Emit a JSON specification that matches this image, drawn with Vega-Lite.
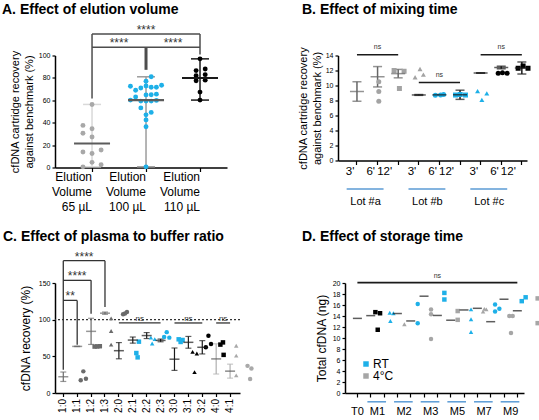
{
  "$schema": "https://vega.github.io/schema/vega-lite/v6.json",
  "autosize": {"type": "none"},
  "padding": {"left": 55, "top": 55.5, "right": 484, "bottom": 364.5},
  "background": "white",
  "config": {
    "font": "Liberation Sans",
    "view": {"stroke": null},
    "title": {"fontSize": 14, "fontWeight": "bold", "anchor": "start", "frame": "group", "color": "#000", "offset": 4},
    "axis": {"domainColor": "#000", "domainWidth": 1.5, "tickColor": "#000", "tickWidth": 1.2, "tickSize": 3, "labelFontSize": 7, "labelColor": "#000", "titleColor": "#000", "titleFontWeight": "normal", "grid": false, "labelPadding": 2}
  },
  "spacing": 227.5,
  "bounds": "flush",
  "vconcat": [
    {
      "spacing": 111,
      "bounds": "flush",
      "hconcat": [
        {
          "title": {"text": "A. Effect of elution volume", "dx": -53, "dy": -3},
          "width": 172,
          "height": 112,
          "data": {"values": [
            {"vol": "65 µL", "rec": 56.3, "j": 0}, {"vol": "65 µL", "rec": 37.6, "j": -7}, {"vol": "65 µL", "rec": 34.6, "j": 0},
            {"vol": "65 µL", "rec": 30.6, "j": -7}, {"vol": "65 µL", "rec": 27.2, "j": 0}, {"vol": "65 µL", "rec": 13.8, "j": -7},
            {"vol": "65 µL", "rec": 12.5, "j": 0}, {"vol": "65 µL", "rec": 15.6, "j": 7}, {"vol": "65 µL", "rec": 4.6, "j": 0},
            {"vol": "65 µL", "rec": 2.4, "j": 7}, {"vol": "65 µL", "rec": 0.6, "j": -7},
            {"vol": "100 µL", "rec": 81, "j": 4}, {"vol": "100 µL", "rec": 77, "j": 0}, {"vol": "100 µL", "rec": 72.5, "j": -12},
            {"vol": "100 µL", "rec": 69, "j": -8}, {"vol": "100 µL", "rec": 71, "j": -4}, {"vol": "100 µL", "rec": 72.8, "j": 0},
            {"vol": "100 µL", "rec": 71.6, "j": 4}, {"vol": "100 µL", "rec": 71.6, "j": 8}, {"vol": "100 µL", "rec": 73.4, "j": 12},
            {"vol": "100 µL", "rec": 63, "j": -8}, {"vol": "100 µL", "rec": 64.8, "j": 0}, {"vol": "100 µL", "rec": 65, "j": 4},
            {"vol": "100 µL", "rec": 65.5, "j": 8}, {"vol": "100 µL", "rec": 60.2, "j": -12}, {"vol": "100 µL", "rec": 59.3, "j": -4},
            {"vol": "100 µL", "rec": 59.3, "j": 0}, {"vol": "100 µL", "rec": 59.3, "j": 4}, {"vol": "100 µL", "rec": 59.9, "j": 8},
            {"vol": "100 µL", "rec": 53.2, "j": -4}, {"vol": "100 µL", "rec": 49.2, "j": 4}, {"vol": "100 µL", "rec": 47, "j": 0},
            {"vol": "100 µL", "rec": 42.5, "j": 0}, {"vol": "100 µL", "rec": 36.4, "j": 0}, {"vol": "100 µL", "rec": 0.6, "j": 0},
            {"vol": "110 µL", "rec": 97, "j": 0}, {"vol": "110 µL", "rec": 86.5, "j": -3}, {"vol": "110 µL", "rec": 88, "j": 4},
            {"vol": "110 µL", "rec": 82, "j": -3}, {"vol": "110 µL", "rec": 82.9, "j": 4}, {"vol": "110 µL", "rec": 77.4, "j": -3},
            {"vol": "110 µL", "rec": 78, "j": 4}, {"vol": "110 µL", "rec": 67.3, "j": 0}, {"vol": "110 µL", "rec": 60.2, "j": 0}
          ]},
          "encoding": {
            "y": {"field": "rec", "type": "quantitative", "title": ["cfDNA cartridge recovery", "against benchmark (%)"], "scale": {"domain": [0, 100]},
              "axis": {"values": [0, 20, 40, 60, 80, 100], "titleFontSize": 11, "titleLineHeight": 14, "titlePadding": 4}}
          },
          "layer": [
            {
              "mark": {"type": "rule", "strokeWidth": 1.5},
              "encoding": {
                "x": {"field": "vol", "type": "nominal", "scale": {"domain": ["65 µL", "100 µL", "110 µL"], "paddingInner": 0, "paddingOuter": 0.093, "align": 1}},
                "y": {"aggregate": "min", "field": "rec", "type": "quantitative", "title": ["cfDNA cartridge recovery", "against benchmark (%)"], "scale": {"domain": [0, 100]},
                  "axis": {"values": [0, 20, 40, 60, 80, 100], "titleFontSize": 11, "titleLineHeight": 14, "titlePadding": 4}},
                "y2": {"aggregate": "max", "field": "rec"},
                "color": {"field": "vol", "type": "nominal", "scale": {"domain": ["65 µL", "100 µL", "110 µL"], "range": ["#d9d9d9", "#9c9c9c", "#1a1a1a"]}, "legend": null}
              }
            },
            {
              "mark": {"type": "tick", "size": 18, "thickness": 1.5},
              "encoding": {
                "x": {"field": "vol", "type": "nominal", "scale": {"domain": ["65 µL", "100 µL", "110 µL"]}},
                "y": {"aggregate": "max", "field": "rec", "type": "quantitative", "title": ["cfDNA cartridge recovery", "against benchmark (%)"], "scale": {"domain": [0, 100]},
                  "axis": {"values": [0, 20, 40, 60, 80, 100], "titleFontSize": 11, "titleLineHeight": 14, "titlePadding": 4}},
                "color": {"field": "vol", "type": "nominal", "scale": {"domain": ["65 µL", "100 µL", "110 µL"], "range": ["#d9d9d9", "#9c9c9c", "#1a1a1a"]}, "legend": null}
              }
            },
            {
              "mark": {"type": "tick", "size": 18, "thickness": 1.5},
              "encoding": {
                "x": {"field": "vol", "type": "nominal", "scale": {"domain": ["65 µL", "100 µL", "110 µL"]}},
                "y": {"aggregate": "min", "field": "rec", "type": "quantitative", "title": ["cfDNA cartridge recovery", "against benchmark (%)"], "scale": {"domain": [0, 100]},
                  "axis": {"values": [0, 20, 40, 60, 80, 100], "titleFontSize": 11, "titleLineHeight": 14, "titlePadding": 4}},
                "color": {"field": "vol", "type": "nominal", "scale": {"domain": ["65 µL", "100 µL", "110 µL"], "range": ["#d9d9d9", "#9c9c9c", "#1a1a1a"]}, "legend": null}
              }
            },
            {
              "mark": {"type": "circle", "size": 24, "opacity": 1},
              "encoding": {
                "x": {"field": "vol", "type": "nominal", "scale": {"domain": ["65 µL", "100 µL", "110 µL"]},
                  "axis": {"title": null, "labelAngle": 0, "labelExpr": "['Elution', 'Volume', datum.label]", "labelFontSize": 12, "labelLineHeight": 15, "labelPadding": 5, "tickSize": 4, "bandPosition": 0.5}},
                "xOffset": {"field": "j", "type": "quantitative", "scale": {"domain": [-20.8, 20.8]}},
                "color": {"field": "vol", "type": "nominal", "scale": {"domain": ["65 µL", "100 µL", "110 µL"], "range": ["#a8a8a8", "#1eb0e8", "#000000"]}, "legend": null}
              }
            },
            {
              "mark": {"type": "tick", "size": 36, "thickness": 2.2},
              "encoding": {
                "x": {"field": "vol", "type": "nominal", "scale": {"domain": ["65 µL", "100 µL", "110 µL"]}},
                "y": {"aggregate": "mean", "field": "rec", "type": "quantitative", "title": ["cfDNA cartridge recovery", "against benchmark (%)"], "scale": {"domain": [0, 100]},
                  "axis": {"values": [0, 20, 40, 60, 80, 100], "titleFontSize": 11, "titleLineHeight": 14, "titlePadding": 4}},
                "color": {"field": "vol", "type": "nominal", "scale": {"domain": ["65 µL", "100 µL", "110 µL"], "range": ["#5c5c5c", "#5c5c5c", "#1a1a1a"]}, "legend": null}
              }
            },
            {
              "data": {"values": [
                {"vol": "65 µL", "vol2": "110 µL", "rec": 107.3},
                {"vol": "65 µL", "vol2": "110 µL", "rec": 119.3}
              ]},
              "mark": {"type": "rule", "color": "#4d4d4d", "strokeWidth": 1.5},
              "encoding": {
                "x": {"field": "vol", "type": "nominal", "bandPosition": 0.5, "scale": {"domain": ["65 µL", "100 µL", "110 µL"]}},
                "x2": {"field": "vol2", "bandPosition": 0.5}
              }
            },
            {
              "data": {"values": [
                {"vol": "65 µL", "rec": 61.5, "rec2": 119.3},
                {"vol": "110 µL", "rec": 101, "rec2": 119.3}
              ]},
              "mark": {"type": "rule", "color": "#4d4d4d", "strokeWidth": 1.5},
              "encoding": {
                "x": {"field": "vol", "type": "nominal", "scale": {"domain": ["65 µL", "100 µL", "110 µL"]}},
                "y2": {"field": "rec2"}
              }
            },
            {
              "data": {"values": [{"vol": "100 µL", "rec": 87.2, "rec2": 107.3}]},
              "mark": {"type": "rule", "color": "#4d4d4d", "strokeWidth": 3},
              "encoding": {
                "x": {"field": "vol", "type": "nominal", "scale": {"domain": ["65 µL", "100 µL", "110 µL"]}},
                "y2": {"field": "rec2"}
              }
            },
            {
              "data": {"values": [{"vol": "100 µL", "rec": 119.3, "s": "****"}]},
              "mark": {"type": "text", "fontSize": 12, "baseline": "alphabetic", "color": "#333"},
              "encoding": {
                "x": {"field": "vol", "type": "nominal", "scale": {"domain": ["65 µL", "100 µL", "110 µL"]}},
                "text": {"field": "s"}
              }
            },
            {
              "data": {"values": [{"vol": "100 µL", "rec": 107.3, "s": "****"}, {"vol": "110 µL", "rec": 107.3, "s": "****"}]},
              "mark": {"type": "text", "fontSize": 12, "baseline": "alphabetic", "color": "#333"},
              "encoding": {
                "x": {"field": "vol", "type": "nominal", "bandPosition": 0, "scale": {"domain": ["65 µL", "100 µL", "110 µL"]}},
                "text": {"field": "s"}
              }
            }
          ],
          "resolve": {"scale": {"color": "independent"}}
        },
        {
          "title": {"text": "B. Effect of mixing time", "dx": -36, "dy": -22},
          "width": 189,
          "height": 105,
          "data": {"values": [
            {"g": "3' a", "lot": "a", "t": "3'", "v": 10.5, "j": 0}, {"g": "3' a", "lot": "a", "t": "3'", "v": 9.2, "j": 0}, {"g": "3' a", "lot": "a", "t": "3'", "v": 7.9, "j": 0},
            {"g": "6' a", "lot": "a", "t": "6'", "v": 12.0, "j": -4.1}, {"g": "6' a", "lot": "a", "t": "6'", "v": 11.9, "j": 3.6}, {"g": "6' a", "lot": "a", "t": "6'", "v": 9.6, "j": 0},
            {"g": "12' a", "lot": "a", "t": "12'", "v": 11.1, "j": -3.8}, {"g": "12' a", "lot": "a", "t": "12'", "v": 11.45, "j": 2.6}, {"g": "12' a", "lot": "a", "t": "12'", "v": 12.2, "j": 0},
            {"g": "3' b", "lot": "b", "t": "3'", "v": 8.7, "j": -4.1}, {"g": "3' b", "lot": "b", "t": "3'", "v": 8.8, "j": 2.3}, {"g": "3' b", "lot": "b", "t": "3'", "v": 8.72, "j": 0},
            {"g": "6' b", "lot": "b", "t": "6'", "v": 8.73, "j": -4.4}, {"g": "6' b", "lot": "b", "t": "6'", "v": 8.8, "j": -0.8}, {"g": "6' b", "lot": "b", "t": "6'", "v": 8.73, "j": 3.3},
            {"g": "12' b", "lot": "b", "t": "12'", "v": 9.26, "j": -3.3}, {"g": "12' b", "lot": "b", "t": "12'", "v": 8.95, "j": 3.8}, {"g": "12' b", "lot": "b", "t": "12'", "v": 8.08, "j": 0},
            {"g": "3' c", "lot": "c", "t": "3'", "v": 11.65, "j": -3.3}, {"g": "3' c", "lot": "c", "t": "3'", "v": 11.7, "j": 0}, {"g": "3' c", "lot": "c", "t": "3'", "v": 11.65, "j": 3.6},
            {"g": "6' c", "lot": "c", "t": "6'", "v": 12.3, "j": -3.8}, {"g": "6' c", "lot": "c", "t": "6'", "v": 12.6, "j": 0}, {"g": "6' c", "lot": "c", "t": "6'", "v": 12.3, "j": 3.8},
            {"g": "12' c", "lot": "c", "t": "12'", "v": 13.1, "j": 1}, {"g": "12' c", "lot": "c", "t": "12'", "v": 12.4, "j": 1}, {"g": "12' c", "lot": "c", "t": "12'", "v": 11.5, "j": 1}
          ]},
          "encoding": {
            "y": {"field": "v", "type": "quantitative", "title": ["cfDNA cartridge recovery", "against benchmark (%)"], "scale": {"domain": [0, 14]},
              "axis": {"values": [0, 2, 4, 6, 8, 10, 12, 14], "titleFontSize": 11, "titleLineHeight": 14, "titlePadding": 3}}
          },
          "layer": [
            {
              "mark": {"type": "errorbar", "extent": "stdev", "ticks": {"size": 9}, "thickness": 1.5},
              "encoding": {
                "x": {"field": "g", "type": "nominal", "scale": {"domain": ["3' a", "6' a", "12' a", "3' b", "6' b", "12' b", "3' c", "6' c", "12' c"], "paddingInner": 0.5, "paddingOuter": 0.335, "align": 1}},
                "color": {"field": "lot", "type": "nominal", "scale": {"domain": ["a", "b", "c"], "range": ["#666666", "#1a1a1a", "#1a1a1a"]}, "legend": null}
              }
            },
            {
              "mark": {"type": "point", "filled": true, "size": 25, "opacity": 1},
              "encoding": {
                "x": {"field": "g", "type": "nominal", "scale": {"domain": ["3' a", "6' a", "12' a", "3' b", "6' b", "12' b", "3' c", "6' c", "12' c"]},
                  "axis": {"title": null, "labelAngle": 0, "labelExpr": "split(datum.label, ' ')[0]", "labelFontSize": 11.5, "labelPadding": 7, "labelOffset": {"condition": {"test": "indexof(datum.label, '12') == 0", "value": -6}, "value": -2.5}, "tickSize": 4, "bandPosition": 0.5}},
                "xOffset": {"field": "j", "type": "quantitative", "scale": {"domain": [-3.96, 3.96]}},
                "color": {"field": "lot", "type": "nominal", "scale": {"domain": ["a", "b", "c"], "range": ["#a3a3a3", "#1eb0e8", "#000000"]}, "legend": null},
                "shape": {"field": "t", "type": "nominal", "scale": {"domain": ["3'", "6'", "12'"], "range": ["circle", "square", "triangle-up"]}, "legend": null}
              }
            },
            {
              "transform": [{"aggregate": [{"op": "mean", "field": "v", "as": "v"}], "groupby": ["g", "lot"]}],
              "mark": {"type": "tick", "size": 14, "thickness": 1.5},
              "encoding": {
                "x": {"field": "g", "type": "nominal", "scale": {"domain": ["3' a", "6' a", "12' a", "3' b", "6' b", "12' b", "3' c", "6' c", "12' c"]}},
                "color": {"field": "lot", "type": "nominal", "scale": {"domain": ["a", "b", "c"], "range": ["#666666", "#1a1a1a", "#1a1a1a"]}, "legend": null}
              }
            },
            {
              "data": {"values": [
                {"g": "3' a", "g2": "12' a", "v": 14.1},
                {"g": "3' b", "g2": "12' b", "v": 10.4},
                {"g": "3' c", "g2": "12' c", "v": 14.1}
              ]},
              "mark": {"type": "rule", "color": "#1a1a1a", "strokeWidth": 1.3},
              "encoding": {
                "x": {"field": "g", "type": "nominal", "bandPosition": 0.5, "scale": {"domain": ["3' a", "6' a", "12' a", "3' b", "6' b", "12' b", "3' c", "6' c", "12' c"]}},
                "x2": {"field": "g2", "bandPosition": 0.5}
              }
            },
            {
              "data": {"values": [
                {"g": "6' a", "v": 14.85, "s": "ns"},
                {"g": "6' b", "v": 11.15, "s": "ns"},
                {"g": "6' c", "v": 14.85, "s": "ns"}
              ]},
              "mark": {"type": "text", "fontSize": 7, "baseline": "alphabetic", "color": "#333"},
              "encoding": {
                "x": {"field": "g", "type": "nominal", "scale": {"domain": ["3' a", "6' a", "12' a", "3' b", "6' b", "12' b", "3' c", "6' c", "12' c"]}},
                "text": {"field": "s"}
              }
            },
            {
              "data": {"values": [
                {"g": "3' a", "g2": "6' a", "v": -3.8},
                {"g": "3' b", "g2": "6' b", "v": -3.8},
                {"g": "3' c", "g2": "6' c", "v": -3.8}
              ]},
              "mark": {"type": "rule", "color": "#5b9bd5", "strokeWidth": 1.5},
              "encoding": {
                "x": {"field": "g", "type": "nominal", "bandPosition": -0.5, "scale": {"domain": ["3' a", "6' a", "12' a", "3' b", "6' b", "12' b", "3' c", "6' c", "12' c"]}},
                "x2": {"field": "g2", "bandPosition": 1.08}
              }
            },
            {
              "data": {"values": [
                {"g": "6' a", "v": -5.5, "s": "Lot #a"},
                {"g": "6' b", "v": -5.5, "s": "Lot #b"},
                {"g": "6' c", "v": -5.5, "s": "Lot #c"}
              ]},
              "mark": {"type": "text", "fontSize": 11, "baseline": "middle", "dx": -12, "color": "#000"},
              "encoding": {
                "x": {"field": "g", "type": "nominal", "scale": {"domain": ["3' a", "6' a", "12' a", "3' b", "6' b", "12' b", "3' c", "6' c", "12' c"]}},
                "text": {"field": "s"}
              }
            }
          ],
          "resolve": {"scale": {"color": "independent"}}
        }
      ]
    },
    {
      "spacing": 105,
      "bounds": "flush",
      "hconcat": [
        {
          "title": {"text": "C. Effect of plasma to buffer ratio", "dx": -52, "dy": -3},
          "width": 185,
          "height": 110,
          "data": {"values": [
            {"r": "1:0", "p": "1", "v": 29.5, "j": 0}, {"r": "1:0", "p": "1", "v": 17.5, "j": -2}, {"r": "1:0", "p": "1", "v": 19.5, "j": 2},
            {"r": "1:1", "p": "1", "v": 63.3, "j": -2}, {"r": "1:1", "p": "1", "v": 63.5, "j": 0}, {"r": "1:1", "p": "1", "v": 63.8, "j": 2},
            {"r": "1:2", "p": "1", "v": 101.7, "j": 0}, {"r": "1:2", "p": "1", "v": 84.5, "j": 0}, {"r": "1:2", "p": "1", "v": 66, "j": 0},
            {"r": "1:3", "p": "1", "v": 110.5, "j": 1.5}, {"r": "1:3", "p": "1", "v": 108.5, "j": 0}, {"r": "1:3", "p": "1", "v": 107.5, "j": -1.5},
            {"r": "2:0", "p": "2", "v": 70, "j": 0}, {"r": "2:0", "p": "2", "v": 54.5, "j": -2}, {"r": "2:0", "p": "2", "v": 48.6, "j": -1},
            {"r": "2:1", "p": "2", "v": 75.5, "j": -1.5}, {"r": "2:1", "p": "2", "v": 73.5, "j": 1.5}, {"r": "2:1", "p": "2", "v": 67.5, "j": -0.5},
            {"r": "2:2", "p": "2", "v": 83, "j": 0}, {"r": "2:2", "p": "2", "v": 76.5, "j": -2}, {"r": "2:2", "p": "2", "v": 75.5, "j": 2},
            {"r": "2:3", "p": "2", "v": 73.2, "j": -1.5}, {"r": "2:3", "p": "2", "v": 72.3, "j": 1.5}, {"r": "2:3", "p": "2", "v": 69.6, "j": 0},
            {"r": "3:0", "p": "3", "v": 56, "j": -1.5}, {"r": "3:0", "p": "3", "v": 53.8, "j": 1.8}, {"r": "3:0", "p": "3", "v": 28.5, "j": 0},
            {"r": "3:1", "p": "3", "v": 78, "j": 0}, {"r": "3:1", "p": "3", "v": 62.4, "j": -2}, {"r": "3:1", "p": "3", "v": 66.9, "j": 2},
            {"r": "3:2", "p": "3", "v": 69, "j": 0.5}, {"r": "3:2", "p": "3", "v": 66, "j": -1.5}, {"r": "3:2", "p": "3", "v": 52, "j": 1},
            {"r": "4:0", "p": "4", "v": 64.5, "j": 0}, {"r": "4:0", "p": "4", "v": 51, "j": 0}, {"r": "4:0", "p": "4", "v": 24, "j": 0},
            {"r": "4:1", "p": "4", "v": 37, "j": -2}, {"r": "4:1", "p": "4", "v": 33.4, "j": 1}, {"r": "4:1", "p": "4", "v": 19, "j": 0}
          ]},
          "encoding": {
            "y": {"field": "v", "type": "quantitative", "title": "cfDNA recovery (%)", "scale": {"domain": [0, 150]},
              "axis": {"values": [0, 50, 100, 150], "titleFontSize": 12, "titlePadding": 6}}
          },
          "layer": [
            {
              "data": {"values": [{"v": 100}]},
              "mark": {"type": "rule", "strokeDash": [2, 2], "color": "#333", "strokeWidth": 1.2}
            },
            {
              "mark": {"type": "errorbar", "extent": "stdev", "ticks": {"size": 6}, "thickness": 1.2},
              "encoding": {
                "x": {"field": "r", "type": "nominal", "scale": {"domain": ["1:0", "1:1", "1:2", "1:3", "2:0", "2:1", "2:2", "2:3", "3:0", "3:1", "3:2", "4:0", "4:1"], "paddingInner": 0, "paddingOuter": 0.155, "align": 0.31}},
                "color": {"field": "p", "type": "nominal", "scale": {"domain": ["1", "2", "3", "4"], "range": ["#6b6b6b", "#1a1a1a", "#1a1a1a", "#b0b0b0"]}, "legend": null}
              }
            },
            {
              "mark": {"type": "point", "filled": true, "size": 20, "opacity": 1},
              "encoding": {
                "x": {"field": "r", "type": "nominal", "scale": {"domain": ["1:0", "1:1", "1:2", "1:3", "2:0", "2:1", "2:2", "2:3", "3:0", "3:1", "3:2", "4:0", "4:1"]},
                  "axis": {"title": null, "labelAngle": 270, "labelFontSize": 10, "labelPadding": 2, "labelOverlap": false, "tickSize": 3.5, "bandPosition": 0.5}},
                "xOffset": {"field": "j", "type": "quantitative", "scale": {"domain": [-5.35, 5.35]}},
                "color": {"field": "p", "type": "nominal", "scale": {"domain": ["1", "2", "3", "4"], "range": ["#6b6b6b", "#1eb0e8", "#000000", "#a9a9a9"]}, "legend": null},
                "shape": {"field": "r", "type": "nominal", "scale": {"domain": ["1:0", "1:1", "1:2", "1:3", "2:0", "2:1", "2:2", "2:3", "3:0", "3:1", "3:2", "4:0", "4:1"],
                  "range": ["circle", "square", "M0,-1L0.22,-0.31L0.95,-0.31L0.36,0.12L0.59,0.81L0,0.38L-0.59,0.81L-0.36,0.12L-0.95,-0.31L-0.22,-0.31Z", "diamond", "circle", "square", "triangle-up", "diamond", "circle", "square", "triangle-up", "circle", "square"]}, "legend": null}
              }
            },
            {
              "transform": [{"aggregate": [{"op": "mean", "field": "v", "as": "v"}], "groupby": ["r", "p"]}],
              "mark": {"type": "tick", "size": 10, "thickness": 1.5},
              "encoding": {
                "x": {"field": "r", "type": "nominal", "scale": {"domain": ["1:0", "1:1", "1:2", "1:3", "2:0", "2:1", "2:2", "2:3", "3:0", "3:1", "3:2", "4:0", "4:1"]}},
                "color": {"field": "p", "type": "nominal", "scale": {"domain": ["1", "2", "3", "4"], "range": ["#6b6b6b", "#1a1a1a", "#1a1a1a", "#5a5a5a"]}, "legend": null}
              }
            },
            {
              "data": {"values": [
                {"r": "1:0", "r2": "1:1", "v": 126.3},
                {"r": "1:0", "r2": "1:2", "v": 153.6},
                {"r": "1:0", "r2": "1:3", "v": 180.5},
                {"r": "2:0", "r2": "2:3", "v": 95.5},
                {"r": "3:0", "r2": "3:2", "v": 95.5},
                {"r": "4:0", "r2": "4:1", "v": 95.5}
              ]},
              "mark": {"type": "rule", "color": "#333", "strokeWidth": 1.3},
              "encoding": {
                "x": {"field": "r", "type": "nominal", "bandPosition": 0.5, "scale": {"domain": ["1:0", "1:1", "1:2", "1:3", "2:0", "2:1", "2:2", "2:3", "3:0", "3:1", "3:2", "4:0", "4:1"]}},
                "x2": {"field": "r2", "bandPosition": 0.5}
              }
            },
            {
              "data": {"values": [
                {"r": "1:0", "v": 31.8, "v2": 180.5},
                {"r": "1:1", "v": 65.9, "v2": 126.3},
                {"r": "1:2", "v": 108, "v2": 153.6},
                {"r": "1:3", "v": 117.3, "v2": 180.5}
              ]},
              "mark": {"type": "rule", "color": "#333", "strokeWidth": 1.3},
              "encoding": {
                "x": {"field": "r", "type": "nominal", "scale": {"domain": ["1:0", "1:1", "1:2", "1:3", "2:0", "2:1", "2:2", "2:3", "3:0", "3:1", "3:2", "4:0", "4:1"]}},
                "y2": {"field": "v2"}
              }
            },
            {
              "data": {"values": [{"r": "1:1", "v": 126.3, "s": "**"}, {"r": "1:2", "v": 180.5, "s": "****"}]},
              "mark": {"type": "text", "fontSize": 12, "baseline": "alphabetic", "color": "#333"},
              "encoding": {
                "x": {"field": "r", "type": "nominal", "bandPosition": 0, "scale": {"domain": ["1:0", "1:1", "1:2", "1:3", "2:0", "2:1", "2:2", "2:3", "3:0", "3:1", "3:2", "4:0", "4:1"]}},
                "text": {"field": "s"}
              }
            },
            {
              "data": {"values": [{"r": "1:1", "v": 153.6, "s": "****"}]},
              "mark": {"type": "text", "fontSize": 12, "baseline": "alphabetic", "color": "#333"},
              "encoding": {
                "x": {"field": "r", "type": "nominal", "scale": {"domain": ["1:0", "1:1", "1:2", "1:3", "2:0", "2:1", "2:2", "2:3", "3:0", "3:1", "3:2", "4:0", "4:1"]}},
                "text": {"field": "s"}
              }
            },
            {
              "data": {"values": [{"r": "2:2", "v": 98.5, "s": "ns"}, {"r": "4:1", "v": 98.5, "s": "ns"}]},
              "mark": {"type": "text", "fontSize": 8, "baseline": "alphabetic", "color": "#333"},
              "encoding": {
                "x": {"field": "r", "type": "nominal", "bandPosition": 0, "scale": {"domain": ["1:0", "1:1", "1:2", "1:3", "2:0", "2:1", "2:2", "2:3", "3:0", "3:1", "3:2", "4:0", "4:1"]}},
                "text": {"field": "s"}
              }
            },
            {
              "data": {"values": [{"r": "3:1", "v": 98.5, "s": "ns"}]},
              "mark": {"type": "text", "fontSize": 8, "baseline": "alphabetic", "color": "#333"},
              "encoding": {
                "x": {"field": "r", "type": "nominal", "scale": {"domain": ["1:0", "1:1", "1:2", "1:3", "2:0", "2:1", "2:2", "2:3", "3:0", "3:1", "3:2", "4:0", "4:1"]}},
                "text": {"field": "s"}
              }
            }
          ],
          "resolve": {"scale": {"color": "independent"}}
        },
        {
          "title": {"text": "D. Effect of storage time", "dx": -43, "dy": -24},
          "width": 179,
          "height": 110,
          "data": {"values": [
            {"g": "T0", "m": "T0", "c": "T0", "v": 14.7, "j": -1.8}, {"g": "T0", "m": "T0", "c": "T0", "v": 14.5, "j": 1.8}, {"g": "T0", "m": "T0", "c": "T0", "v": 11.5, "j": 0},
            {"g": "M1 RT", "m": "M1", "c": "RT", "v": 14.6, "j": -1}, {"g": "M1 RT", "m": "M1", "c": "RT", "v": 14.5, "j": 1.8}, {"g": "M1 RT", "m": "M1", "c": "RT", "v": 13.1, "j": -0.5},
            {"g": "M1 4°C", "m": "M1", "c": "4°C", "v": 12.5, "j": 0},
            {"g": "M2 RT", "m": "M2", "c": "RT", "v": 16.2, "j": 0}, {"g": "M2 RT", "m": "M2", "c": "RT", "v": 12.7, "j": 0},
            {"g": "M2 4°C", "m": "M2", "c": "4°C", "v": 15.2, "j": 0}, {"g": "M2 4°C", "m": "M2", "c": "4°C", "v": 14.3, "j": 0}, {"g": "M2 4°C", "m": "M2", "c": "4°C", "v": 9.8, "j": 0},
            {"g": "M3 RT", "m": "M3", "c": "RT", "v": 18.2, "j": 0}, {"g": "M3 RT", "m": "M3", "c": "RT", "v": 17.0, "j": 0},
            {"g": "M3 4°C", "m": "M3", "c": "4°C", "v": 14.9, "j": 0}, {"g": "M3 4°C", "m": "M3", "c": "4°C", "v": 13.3, "j": 0},
            {"g": "M5 RT", "m": "M5", "c": "RT", "v": 15.2, "j": 0}, {"g": "M5 RT", "m": "M5", "c": "RT", "v": 13.4, "j": 0}, {"g": "M5 RT", "m": "M5", "c": "RT", "v": 11.1, "j": 0},
            {"g": "M5 4°C", "m": "M5", "c": "4°C", "v": 14.8, "j": -1}, {"g": "M5 4°C", "m": "M5", "c": "4°C", "v": 15.2, "j": 1.5}, {"g": "M5 4°C", "m": "M5", "c": "4°C", "v": 15.3, "j": 0},
            {"g": "M7 RT", "m": "M7", "c": "RT", "v": 16.1, "j": -2}, {"g": "M7 RT", "m": "M7", "c": "RT", "v": 14.8, "j": -2}, {"g": "M7 RT", "m": "M7", "c": "RT", "v": 15.3, "j": 1.3},
            {"g": "M7 4°C", "m": "M7", "c": "4°C", "v": 14.0, "j": -1.3}, {"g": "M7 4°C", "m": "M7", "c": "4°C", "v": 14.0, "j": 1.3}, {"g": "M7 4°C", "m": "M7", "c": "4°C", "v": 10.9, "j": 0},
            {"g": "M9 RT", "m": "M9", "c": "RT", "v": 16.7, "j": -2}, {"g": "M9 RT", "m": "M9", "c": "RT", "v": 17.4, "j": 1},
            {"g": "M9 4°C", "m": "M9", "c": "4°C", "v": 17.2, "j": 0}, {"g": "M9 4°C", "m": "M9", "c": "4°C", "v": 12.7, "j": 0}
          ]},
          "encoding": {
            "y": {"field": "v", "type": "quantitative", "title": "Total cfDNA (ng)", "scale": {"domain": [0, 20]},
              "axis": {"values": [0, 2, 4, 6, 8, 10, 12, 14, 16, 18, 20], "titleFontSize": 12, "titlePadding": 4}}
          },
          "layer": [
            {
              "mark": {"type": "point", "filled": true, "size": 20, "opacity": 1},
              "encoding": {
                "x": {"field": "g", "type": "nominal", "scale": {"domain": ["T0", "M1 RT", "M1 4°C", "M2 RT", "M2 4°C", "M3 RT", "M3 4°C", "M5 RT", "M5 4°C", "M7 RT", "M7 4°C", "M9 RT", "M9 4°C"], "paddingInner": 0, "paddingOuter": 0.215, "align": 1},
                  "axis": {"title": null, "labelAngle": 0, "labelExpr": "datum.label == 'T0' ? 'T0' : (indexof(datum.label, 'RT') > 0 ? split(datum.label, ' ')[0] : '')", "labelOffset": {"condition": {"test": "datum.label == 'T0'", "value": 0}, "value": 6.7}, "labelFontSize": 11, "labelPadding": 8, "tickSize": 4, "bandPosition": 0.5}},
                "xOffset": {"field": "j", "type": "quantitative", "scale": {"domain": [-5.13, 5.13]}},
                "color": {"field": "c", "type": "nominal", "scale": {"domain": ["RT", "4°C", "T0"], "range": ["#1eb0e8", "#a6a6a6", "#000000"]},
                  "legend": {"title": null, "values": ["RT", "4°C"], "orient": "none", "legendX": 15, "legendY": 75, "symbolType": "square", "symbolSize": 30, "labelFontSize": 12, "rowPadding": -1, "labelOffset": 1}},
                "shape": {"field": "m", "type": "nominal", "scale": {"domain": ["T0", "M1", "M2", "M3", "M5", "M7", "M9"],
                  "range": ["circle", "square", "triangle-down", "diamond", "triangle-up", "circle", "M0,-1L0.22,-0.31L0.95,-0.31L0.36,0.12L0.59,0.81L0,0.38L-0.59,0.81L-0.36,0.12L-0.95,-0.31L-0.22,-0.31Z"]}, "legend": null}
              }
            },
            {
              "transform": [{"filter": "datum.g != 'M1 4°C'"}, {"aggregate": [{"op": "mean", "field": "v", "as": "v"}], "groupby": ["g"]}],
              "mark": {"type": "tick", "size": 9, "thickness": 1.5, "color": "#1a1a1a"},
              "encoding": {
                "x": {"field": "g", "type": "nominal", "scale": {"domain": ["T0", "M1 RT", "M1 4°C", "M2 RT", "M2 4°C", "M3 RT", "M3 4°C", "M5 RT", "M5 4°C", "M7 RT", "M7 4°C", "M9 RT", "M9 4°C"]}}
              }
            },
            {
              "data": {"values": [{"g": "T0", "g2": "M9 4°C", "v": 20.06}]},
              "mark": {"type": "rule", "color": "#1a1a1a", "strokeWidth": 1.8},
              "encoding": {
                "x": {"field": "g", "type": "nominal", "bandPosition": 0.5, "scale": {"domain": ["T0", "M1 RT", "M1 4°C", "M2 RT", "M2 4°C", "M3 RT", "M3 4°C", "M5 RT", "M5 4°C", "M7 RT", "M7 4°C", "M9 RT", "M9 4°C"]}},
                "x2": {"field": "g2", "bandPosition": 0.5}
              }
            },
            {
              "data": {"values": [{"g": "M3 4°C", "v": 20.9, "s": "ns"}]},
              "mark": {"type": "text", "fontSize": 7, "baseline": "alphabetic", "color": "#333"},
              "encoding": {
                "x": {"field": "g", "type": "nominal", "scale": {"domain": ["T0", "M1 RT", "M1 4°C", "M2 RT", "M2 4°C", "M3 RT", "M3 4°C", "M5 RT", "M5 4°C", "M7 RT", "M7 4°C", "M9 RT", "M9 4°C"]}},
                "text": {"field": "s"}
              }
            },
            {
              "data": {"values": [
                {"g": "M1 RT", "g2": "M1 4°C", "v": -1.6},
                {"g": "M2 RT", "g2": "M2 4°C", "v": -1.6},
                {"g": "M3 RT", "g2": "M3 4°C", "v": -1.6},
                {"g": "M5 RT", "g2": "M5 4°C", "v": -1.6},
                {"g": "M7 RT", "g2": "M7 4°C", "v": -1.6},
                {"g": "M9 RT", "g2": "M9 4°C", "v": -1.6}
              ]},
              "mark": {"type": "rule", "color": "#5b9bd5", "strokeWidth": 1.5},
              "encoding": {
                "x": {"field": "g", "type": "nominal", "bandPosition": 0.25, "scale": {"domain": ["T0", "M1 RT", "M1 4°C", "M2 RT", "M2 4°C", "M3 RT", "M3 4°C", "M5 RT", "M5 4°C", "M7 RT", "M7 4°C", "M9 RT", "M9 4°C"]}},
                "x2": {"field": "g2", "bandPosition": 0.65}
              }
            }
          ],
          "resolve": {"scale": {"color": "independent"}}
        }
      ]
    }
  ]
}
